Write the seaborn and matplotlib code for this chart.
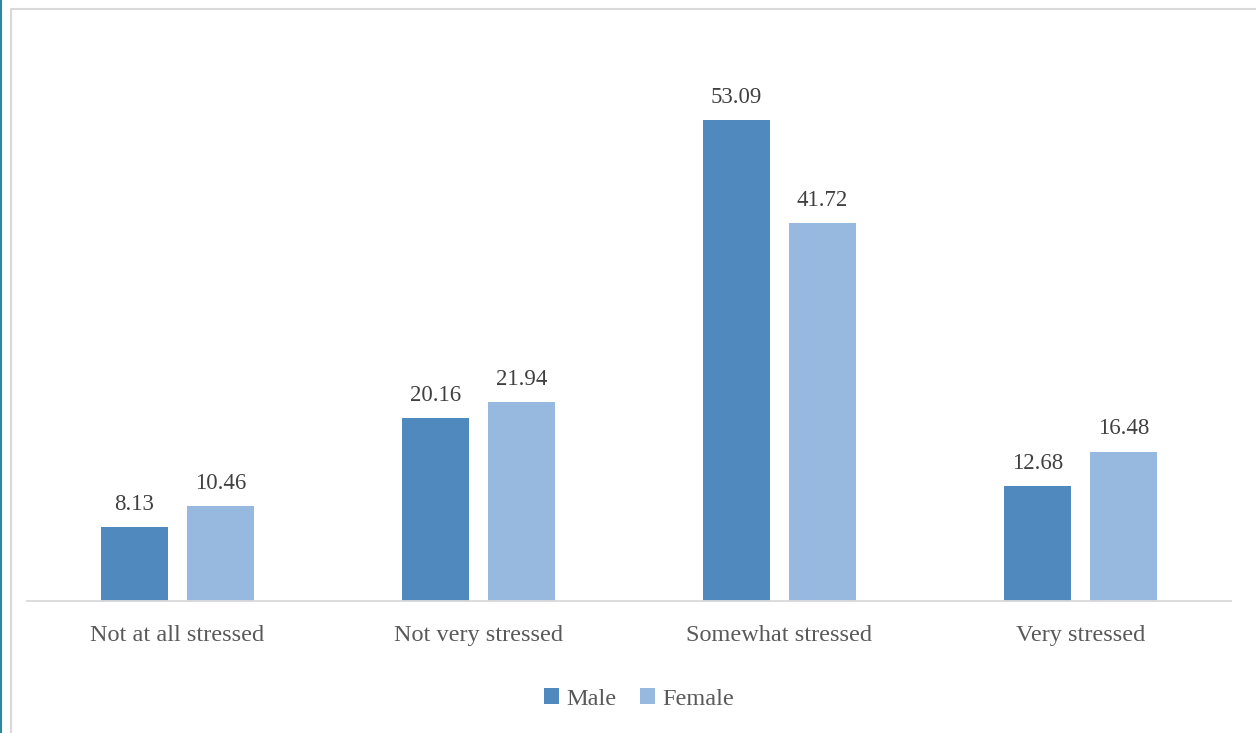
import matplotlib
matplotlib.use("Agg")
import matplotlib.pyplot as plt
import seaborn as sns
import pandas as pd
from matplotlib.patches import Rectangle, Patch
from matplotlib.lines import Line2D

categories = ["Not at all stressed", "Not very stressed", "Somewhat stressed", "Very stressed"]
male = [8.13, 20.16, 53.09, 12.68]
female = [10.46, 21.94, 41.72, 16.48]
groups = ["Male", "Female"]
colors = ["#4f89bd", "#98b9df"]

sns.set_theme(style="white")
plt.rcParams["font.family"] = ["Liberation Serif", "DejaVu Serif"]

df = pd.DataFrame({
    "category": categories * 2,
    "value": male + female,
    "group": ["Male"] * len(categories) + ["Female"] * len(categories),
})

fig = plt.figure(figsize=(12.56, 7.33), dpi=100)
ax = fig.add_axes([0.0215, 0.180, 0.9585, 0.7416])

sns.barplot(data=df, x="category", y="value", hue="group", hue_order=groups,
            palette=colors, width=0.571, gap=0.221, saturation=1, ax=ax,
            legend=False, edgecolor="none")

for cont in ax.containers:
    ax.bar_label(cont, fmt="%.2f", padding=9, fontsize=16.5, color="#404040")

ax.set_ylim(0, 60)
ax.set_xlim(-0.5, 3.5)
ax.set_xlabel("")
ax.set_ylabel("")
ax.set_yticks([])
for s in ["top", "right", "left"]:
    ax.spines[s].set_visible(False)
ax.spines["bottom"].set_color("#d9d9d9")
ax.spines["bottom"].set_linewidth(1.3)
ax.tick_params(axis="x", length=0, pad=17, labelsize=17.5, labelcolor="#595959")

# chart frame and left accent
fig.patches.append(Rectangle((11 / 1256, -0.1), 1.2, 1 - 9 / 733 + 0.1,
                             transform=fig.transFigure, fill=False,
                             edgecolor="#d9d9d9", linewidth=1.5, zorder=0))
fig.add_artist(Line2D([0.0008, 0.0008], [0, 1], transform=fig.transFigure,
                      color="#2a8a9c", linewidth=1.5))

handles = [Patch(facecolor=c, edgecolor="none", label=g) for g, c in zip(groups, colors)]
fig.legend(handles=handles, loc="center", bbox_to_anchor=(639 / 1256, 1 - 699 / 733),
           ncol=2, frameon=False, fontsize=17.5, handlelength=0.6, handleheight=0.6,
           handletextpad=0.3, columnspacing=1.0, labelcolor="#595959")

fig.savefig("out.png", dpi=100)
